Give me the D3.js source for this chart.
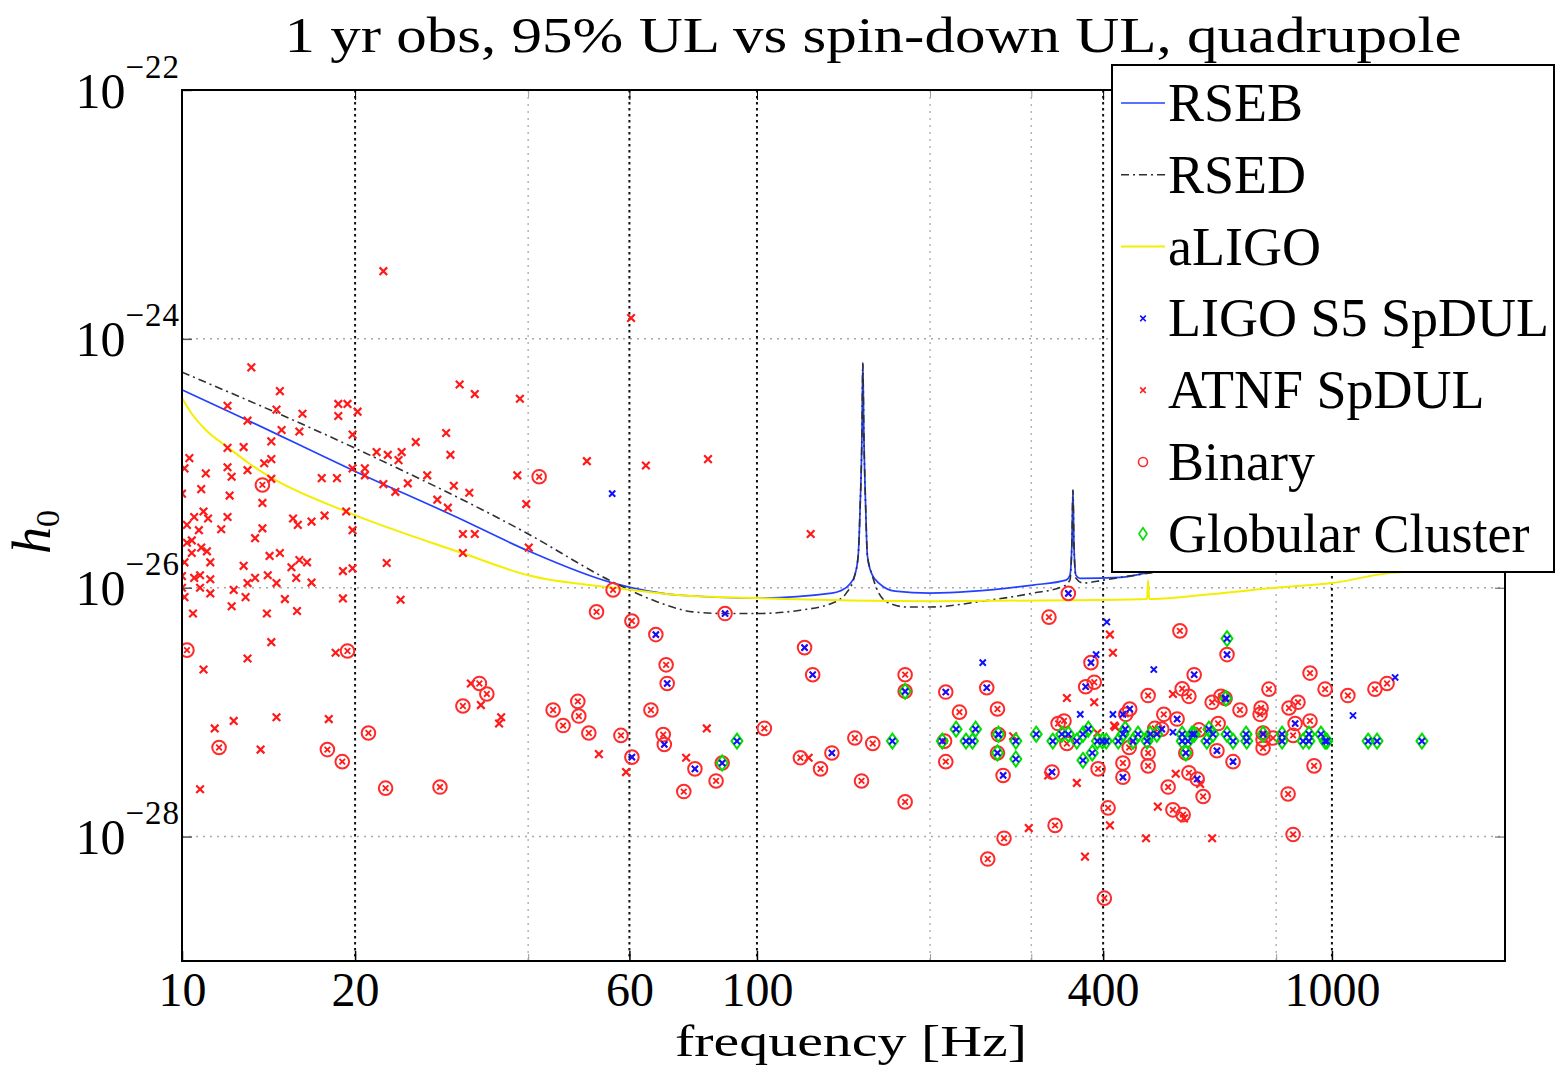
<!DOCTYPE html>
<html><head><meta charset="utf-8">
<script src="https://cdn.jsdelivr.net/npm/d3@7"></script>
<style>
body{margin:0;background:#fff}
svg{display:block}
text{font-family:"Liberation Serif","Times New Roman",serif;fill:#000}
</style>
</head><body>
<svg id="c" width="1556" height="1067"></svg>
<script>
// ---------------- DATA ----------------
const titleText = "1 yr obs, 95% UL vs spin-down UL, quadrupole";
const xLabel = "frequency [Hz]";
const xTickVals = [10, 20, 60, 100, 400, 1000];
const xMinorVals = [40, 200, 300, 800];
const yTickVals = [1e-22, 1e-24, 1e-26, 1e-28];

// RSEB curve
const rsebFreq = [10,13,19.8,30,39.8,56.2,73.5,100,135,139.4,145.1,148.1,150,151.1,152.3,152.8,153.4,154.6,155.6,158.5,163.7,173.8,200,302,344.7,350.2,352.9,354.5,355.9,358.8,364.5,428,482,600,1000,2000];
const rsebH0   = [3.9e-25,2.22e-25,8.8e-26,3.7e-26,2.0e-26,1.09e-26,8.7e-27,8.25e-27,9.05e-27,9.4e-27,1.07e-26,1.28e-26,1.82e-26,4.2e-26,1.85e-25,6.4e-25,1.85e-25,4.2e-26,1.82e-26,1.28e-26,1.07e-26,9.4e-27,9.05e-27,1.05e-26,1.15e-26,1.26e-26,2.2e-26,6.09e-26,2.2e-26,1.26e-26,1.19e-26,1.21e-26,1.33e-26,1.45e-26,2.0e-26,3.2e-26];
// RSED curve
const rsedFreq = [10,19.8,39.8,56.2,65.9,77.4,88,100,119,135,143,148.1,150,151.1,152.3,152.8,153.4,154.6,155.6,158.5,163,170,182.4,200,247,302,340,350.2,352.9,354.5,355.9,358.8,369,400,428,600,1000,2000];
const rsedH0   = [5.4e-25,1.35e-25,2.74e-26,1.11e-26,7.95e-27,6.4e-27,6.2e-27,6.2e-27,6.6e-27,7.5e-27,9.05e-27,1.28e-26,1.82e-26,4.2e-26,1.85e-25,6.4e-25,1.85e-25,4.2e-26,1.82e-26,1.28e-26,9.0e-27,7.5e-27,7.0e-27,7.0e-27,7.8e-27,9.05e-27,1.02e-26,1.15e-26,2.2e-26,6.09e-26,2.2e-26,1.19e-26,1.09e-26,1.15e-26,1.21e-26,1.5e-26,2.2e-26,3.8e-26];
// aLIGO curve
const aligoFreq = [10,10.4,11.0,12.0,13.0,14.2,19.4,30.8,40,56.2,73.5,100,203,395,477,479,481,590,800,1000,1260,2000];
const aligoH0   = [3.34e-25,2.5e-25,1.85e-25,1.35e-25,1.02e-25,7.8e-26,4.05e-26,1.89e-26,1.26e-26,1.0e-26,8.7e-27,8.25e-27,7.8e-27,7.95e-27,8.1e-27,1.15e-26,8.1e-27,8.7e-27,1.0e-26,1.09e-26,1.31e-26,1.45e-26];

// ATNF spin-down upper limits (red x) [freq Hz, h0]
const atnf = [[13.2,5.9e-25],[14.8,3.8e-25],[12.0,2.9e-25],[14.6,2.7e-25],[13.0,2.2e-25],[16.2,2.5e-25],[18.7,3.0e-25],[19.4,3.0e-25],[18.7,2.4e-25],[20.2,2.6e-25],
[14.9,1.85e-25],[16.0,1.8e-25],[19.8,1.7e-25],[14.3,1.5e-25],[12.8,1.35e-25],[12.0,1.33e-25],[10.3,1.1e-25],[13.9,1.0e-25],[14.3,1.08e-25],[10.1,9.1e-26],
[12.0,9.3e-26],[13.0,8.8e-26],[11.0,8.3e-26],[12.2,7.8e-26],[17.5,7.6e-26],[18.6,7.6e-26],[19.8,9.1e-26],[14.3,7.5e-26],[20.8,9.1e-26],[20.8,8.0e-26],
[22.4,6.8e-26],[23.5,5.9e-26],[24.7,6.9e-26],[26.7,8.0e-26],[21.8,1.23e-25],[22.8,1.17e-25],[24.1,1.23e-25],[23.8,1.06e-25],[25.5,1.48e-25],[28.8,1.75e-25],
[29.3,1.17e-25],[30.4,4.3e-25],[32.3,3.6e-25],[38.7,3.3e-25],[29.7,6.6e-26],[31.6,5.8e-26],[27.8,5.1e-26],[29.0,4.4e-26],[38.3,8.0e-26],[39.7,4.7e-26],
[50.6,1.04e-25],[64.1,9.6e-26],[82.2,1.08e-25],[10.0,5.7e-26],[10.2,3.2e-26],[10.5,3.7e-26],[11.1,3.6e-26],[10.9,4.1e-26],[10.8,6.2e-26],[12.1,5.5e-26],
[12.0,3.7e-26],[11.7,2.95e-26],[13.8,4.8e-26],[13.8,3.0e-26],[13.4,2.5e-26],[10.7,2.9e-26],[10.4,2.4e-26],[10.2,2.3e-26],[10.4,1.9e-26],[10.8,2.1e-26],
[11.05,1.96e-26],[11.2,1.6e-26],[10.1,1.6e-26],[10.0,1.24e-26],[10.5,1.2e-26],[10.75,1.26e-26],[11.2,1.17e-26],[10.0,1.0e-26],[10.75,1.0e-26],[10.1,8.4e-27],
[11.2,9.0e-27],[12.3,9.6e-27],[12.8,1.5e-26],[13.4,1.2e-26],[13.0,1.09e-26],[12.9,8.4e-27],[12.2,7.1e-27],[10.45,6.2e-27],[14.2,1.8e-26],[14.8,1.9e-26],
[15.5,1.46e-26],[16.0,1.67e-26],[16.5,1.6e-26],[15.8,1.2e-26],[14.6,1.09e-26],[14.1,1.26e-26],[16.8,1.1e-26],[15.1,8.1e-27],[14.05,6.2e-27],[15.85,6.5e-27],
[19.05,1.36e-26],[19.05,8.2e-27],[19.8,1.43e-26],[19.8,2.9e-26],[19.3,4.1e-26],[17.7,3.8e-26],[16.8,3.4e-26],[15.9,3.2e-26],[15.6,3.6e-26],[22.7,1.58e-26],
[24.0,8.0e-27],[30.8,2.7e-26],[32.3,2.7e-26],[30.8,1.9e-26],[40.1,2.1e-26],[14.3,3.65e-27],[13.0,2.7e-27],[10.9,2.2e-27],[18.5,3.0e-27],[11.4,7.4e-28],
[12.3,8.5e-28],[14.6,9.1e-28],[18.0,8.8e-28],[13.7,5.0e-28],[10.75,2.4e-28],[31.8,1.7e-27],[33.1,1.14e-27],[35.9,9.1e-28],[35.6,8.1e-28],[53.1,4.6e-28],
[59.2,3.3e-28],[22.4,3.5e-24],[60.4,1.47e-24],[124,2.7e-26],[81.8,7.4e-28],[75.3,4.3e-28],[123,4.3e-28],[279,6.4e-28],[346,1.3e-27],[386,1.2e-27],
[411,4.2e-27],[416,3.0e-27],[420,7.6e-28],[360,2.7e-28],[321,3.1e-28],[297,1.17e-28],[372,6.9e-29],[411,1.23e-28],[529,1.4e-27],[418,7.8e-28],
[535,3.2e-28],[590,2.65e-28],[498,1.74e-28],[475,9.7e-29],[619,9.7e-29],[391,6.8e-28],[553,1.4e-28]];

// Binary pulsars [freq, h0, alsoInLigoS5]
const binary = [[13.8,6.7e-26,0],[41.8,7.8e-26,0],[56.2,9.6e-27,0],[52.6,6.4e-27,0],[60.6,5.4e-27,0],[66.7,4.2e-27,1],[10.2,3.15e-27,0],[11.6,5.2e-28,0],[19.4,3.1e-27,0],[17.9,5.0e-28,0],
[19.0,4.0e-28,0],[21.1,6.8e-28,0],[22.6,2.45e-28,0],[28.1,2.5e-28,0],[30.8,1.12e-27,0],[32.9,1.7e-27,0],[33.9,1.4e-27,0],[44.2,1.04e-27,0],[46.0,7.8e-28,0],[48.8,1.22e-27,0],
[49.0,9.3e-28,0],[51.0,6.8e-28,0],[58.0,6.5e-28,0],[69.5,2.4e-27,0],[69.8,1.7e-27,1],[65.4,1.04e-27,0],[68.7,6.6e-28,0],[69.0,5.5e-28,1],[60.6,4.35e-28,1],[78.0,3.5e-28,1],
[84.9,2.8e-28,0],[74.6,2.3e-28,0],[88.0,6.2e-27,1],[103,7.4e-28,0],[121,3.3e-27,1],[125,2.0e-27,1],[119,4.3e-28,0],[129,3.5e-28,0],[135,4.7e-28,1],[148,6.2e-28,0],
[159,5.6e-28,0],[152,2.8e-28,0],[181,2.0e-27,0],[181,1.9e-28,0],[213,1.45e-27,1],[225,1.0e-27,0],[212,5.85e-28,0],[213,4.0e-28,0],[251,1.57e-27,1],[262,1.06e-27,0],
[263,6.6e-28,1],[262,4.7e-28,0],[268,3.1e-28,1],[322,5.8e-27,0],[326,3.3e-28,1],[381,2.5e-27,1],[373,1.6e-27,1],[386,1.74e-27,0],[334,8.1e-28,0],[342,8.5e-28,0],
[346,5.6e-28,0],[392,3.5e-28,0],[408,1.7e-28,0],[330,1.23e-28,0],[269,9.7e-29,0],[252,6.6e-29,0],[402,3.2e-29,0],[348,9.0e-27,1],[544,4.5e-27,0],[657,2.9e-27,1],
[576,2.0e-27,1],[549,1.54e-27,0],[564,1.34e-27,0],[479,1.36e-27,0],[777,1.53e-27,0],[916,2.06e-27,0],[973,1.53e-27,0],[1066,1.36e-27,0],[1188,1.53e-27,0],[1247,1.7e-27,0],
[619,1.2e-27,0],[641,1.34e-27,0],[652,1.29e-27,1],[692,1.04e-27,0],[753,1.08e-27,0],[750,9.6e-28,0],[842,1.08e-27,0],[873,1.2e-27,0],[863,8.1e-28,1],[916,8.5e-28,0],
[510,9.6e-28,0],[538,8.8e-28,1],[438,9.6e-28,0],[445,1.06e-27,1],[492,7.4e-28,0],[506,7.3e-28,1],[634,8.1e-28,0],[587,7.2e-28,0],[856,6.5e-28,0],[759,6.8e-28,0],
[759,6.0e-28,0],[759,5.15e-28,0],[790,6.2e-28,0],[444,5.2e-28,0],[479,4.7e-28,0],[433,3.9e-28,0],[479,3.7e-28,0],[557,4.7e-28,0],[631,4.9e-28,1],[673,4.0e-28,1],
[931,3.7e-28,0],[433,3.0e-28,1],[564,3.25e-28,0],[583,2.9e-28,1],[519,2.5e-28,0],[597,2.1e-28,0],[839,2.2e-28,0],[529,1.64e-28,0],[551,1.5e-28,0],[856,1.04e-28,0],
[87.0,3.9e-28,0],[181,1.47e-27,0]];

// Globular cluster pulsars [freq, h0, alsoInLigoS5]
const globular = [[92.3,5.85e-28,1],[87.0,3.9e-28,1],[172,5.85e-28,1],[181,1.47e-27,1],[210,5.85e-28,1],[222,7.3e-28,1],[231,5.85e-28,1],[237,5.85e-28,1],[240,7.3e-28,1],[263,6.65e-28,1],
[262,4.7e-28,1],[282,5.85e-28,1],[282,4.2e-28,1],[306,6.65e-28,1],[327,5.85e-28,1],[339,6.65e-28,1],[348,6.65e-28,1],[360,5.85e-28,1],[369,4.1e-28,1],[369,6.65e-28,1],
[377,7.3e-28,1],[383,4.7e-28,1],[391,5.85e-28,1],[399,5.85e-28,1],[405,5.85e-28,1],[425,5.85e-28,1],[437,7.3e-28,1],[433,6.65e-28,1],[451,5.85e-28,1],[460,6.65e-28,1],
[477,5.85e-28,1],[483,6.65e-28,1],[496,6.65e-28,1],[549,6.65e-28,1],[549,5.85e-28,1],[562,5.85e-28,1],[571,6.65e-28,1],[557,4.7e-28,1],[576,6.65e-28,1],[606,5.85e-28,1],
[611,7.3e-28,1],[621,6.65e-28,1],[657,3.9e-27,1],[654,1.29e-27,1],[657,6.65e-28,1],[673,5.85e-28,1],[709,6.65e-28,1],[711,5.85e-28,1],[759,6.65e-28,1],[819,6.65e-28,1],
[819,5.85e-28,1],[891,5.85e-28,1],[912,6.65e-28,1],[912,5.85e-28,1],[957,6.65e-28,1],[973,5.85e-28,1],[980,5.85e-28,1],[1156,5.85e-28,1],[1198,5.85e-28,1],[1434,5.85e-28,1]];

// LIGO S5 spin-down UL not already in the binary / globular lists
const ligoS5Only = [[56.0,5.7e-26],[247,2.5e-27],[365,9.6e-28],[406,5.3e-27],[389,2.9e-27],[416,9.6e-28],[490,2.2e-27],[433,9.6e-28],[529,6.9e-28],[1288,1.9e-27],[1088,9.4e-28]];

const legendLabels = ["RSEB","RSED","aLIGO","LIGO S5 SpDUL","ATNF SpDUL","Binary","Globular Cluster"];

// ---------------- DRAW ----------------
const svg = d3.select("#c");
const M = {l:182, r:1505, t:90, b:961};
const x = d3.scaleLog().domain([10,2000]).range([M.l, M.r]);
const y = d3.scaleLog().domain([1e-29,1e-22]).range([M.b, M.t]);

svg.append("rect").attr("width",1556).attr("height",1067).attr("fill","#fff");
svg.append("defs").append("clipPath").attr("id","clip")
  .append("rect").attr("x",M.l).attr("y",M.t).attr("width",M.r-M.l).attr("height",M.b-M.t);

// grid
const grid = svg.append("g");
grid.selectAll(".hg").data([1e-24,1e-26,1e-28]).join("line")
  .attr("x1",M.l).attr("x2",M.r).attr("y1",d=>y(d)).attr("y2",d=>y(d))
  .attr("stroke","#a8a8a8").attr("stroke-width",1.5).attr("stroke-dasharray","2,5");
grid.selectAll(".vmin").data(xMinorVals).join("line")
  .attr("x1",d=>x(d)).attr("x2",d=>x(d)).attr("y1",M.t).attr("y2",M.b)
  .attr("stroke","#b4b4b4").attr("stroke-width",1.5).attr("stroke-dasharray","2,5");
grid.selectAll(".vmaj").data(xTickVals.filter(v=>v>10)).join("line")
  .attr("x1",d=>x(d)).attr("x2",d=>x(d)).attr("y1",M.t).attr("y2",M.b)
  .attr("stroke","#111").attr("stroke-width",2).attr("stroke-dasharray","2.5,3.5");

// curves
const zip = (a,b)=>a.map((v,i)=>[v,b[i]]);
const line = d3.line().x(d=>x(d[0])).y(d=>y(d[1])).curve(d3.curveMonotoneX);
const curves = svg.append("g").attr("clip-path","url(#clip)").attr("fill","none");
curves.append("path").attr("d",line(zip(rsebFreq,rsebH0))).attr("stroke","#2340ff").attr("stroke-width",1.7);
curves.append("path").attr("d",line(zip(rsedFreq,rsedH0))).attr("stroke","#303030").attr("stroke-width",1.6).attr("stroke-dasharray","8,4,2,4");
curves.append("path").attr("d",line(zip(aligoFreq,aligoH0))).attr("stroke","#f4ee00").attr("stroke-width",2);

// markers
const xPath = s => `M${-s},${-s}L${s},${s}M${-s},${s}L${s},${-s}`;
const diamond = (w,h) => `M0,${-h}L${w},0L0,${h}L${-w},0Z`;
const pts = svg.append("g").attr("clip-path","url(#clip)").attr("fill","none");

pts.append("g").selectAll("path").data(atnf).join("path")
  .attr("transform",d=>`translate(${x(d[0])},${y(d[1])})`).attr("d",xPath(3.8))
  .attr("stroke","#ff1a1a").attr("stroke-width",2.2);

const bg = pts.append("g").selectAll("g").data(binary).join("g")
  .attr("transform",d=>`translate(${x(d[0])},${y(d[1])})`);
bg.append("circle").attr("r",6.8).attr("stroke","#ff2a2a").attr("stroke-width",2);
bg.append("path").attr("d",xPath(2.8)).attr("stroke","#ff1a1a").attr("stroke-width",1.8);

pts.append("g").selectAll("path").data(globular).join("path")
  .attr("transform",d=>`translate(${x(d[0])},${y(d[1])})`).attr("d",diamond(5.5,7.5))
  .attr("stroke","#00e000").attr("stroke-width",2);

const s5all = ligoS5Only.concat(binary.filter(d=>d[2]), globular.filter(d=>d[2]));
pts.append("g").selectAll("path").data(s5all).join("path")
  .attr("transform",d=>`translate(${x(d[0])},${y(d[1])})`).attr("d",xPath(3.1))
  .attr("stroke","#1010ff").attr("stroke-width",2);

// axes
const fontFam = '"Liberation Serif","Times New Roman",serif';
const xAx = svg.append("g").attr("transform",`translate(0,${M.b})`)
  .call(d3.axisBottom(x).tickValues(xTickVals).tickFormat(d3.format("d")).tickSizeInner(-10).tickSizeOuter(0).tickPadding(11));
xAx.attr("font-family",fontFam).attr("font-size",48).attr("color","#000");
xAx.select(".domain").remove();
xAx.selectAll(".tick line").attr("stroke-width",1.5);

svg.append("g").attr("transform",`translate(0,${M.b})`).attr("color","#999")
  .call(d3.axisBottom(x).tickValues(xMinorVals).tickFormat("").tickSizeInner(-7).tickSizeOuter(0))
  .call(g=>g.select(".domain").remove());
svg.append("g").attr("transform",`translate(0,${M.t})`).attr("color","#000")
  .call(d3.axisTop(x).tickValues(xTickVals).tickFormat("").tickSizeInner(-10).tickSizeOuter(0))
  .call(g=>g.select(".domain").remove());
svg.append("g").attr("transform",`translate(0,${M.t})`).attr("color","#999")
  .call(d3.axisTop(x).tickValues(xMinorVals).tickFormat("").tickSizeInner(-7).tickSizeOuter(0))
  .call(g=>g.select(".domain").remove());

const yAx = svg.append("g").attr("transform",`translate(${M.l},0)`)
  .call(d3.axisLeft(y).tickValues(yTickVals).tickSizeInner(-10).tickSizeOuter(0).tickPadding(4));
yAx.attr("font-family",fontFam).attr("font-size",50).attr("color","#000");
yAx.select(".domain").remove();
yAx.selectAll(".tick line").attr("stroke","#555").attr("stroke-width",1.5);
yAx.selectAll(".tick text").each(function(d){
  const t = d3.select(this);
  t.text(null).attr("dy",null).attr("y",17).attr("x",-2);
  t.append("tspan").text("10");
  t.append("tspan").attr("font-size",33).attr("dy",-30).attr("letter-spacing",1).text("\u2212" + Math.round(-Math.log10(d)));
});
svg.append("g").attr("transform",`translate(${M.r},0)`).attr("color","#555")
  .call(d3.axisRight(y).tickValues(yTickVals).tickFormat("").tickSizeInner(-10).tickSizeOuter(0))
  .call(g=>g.select(".domain").remove());

// frame
svg.append("rect").attr("x",M.l).attr("y",M.t).attr("width",M.r-M.l).attr("height",M.b-M.t)
  .attr("fill","none").attr("stroke","#000").attr("stroke-width",2);

// titles
svg.append("text").attr("x",873).attr("y",52).attr("text-anchor","middle").attr("font-size",50)
  .attr("textLength",1177).attr("lengthAdjust","spacingAndGlyphs").text(titleText);
svg.append("text").attr("x",851).attr("y",1056).attr("text-anchor","middle").attr("font-size",44)
  .attr("textLength",352).attr("lengthAdjust","spacingAndGlyphs").text(xLabel);
const yl = svg.append("text").attr("transform","translate(50,532) rotate(-90)").attr("text-anchor","middle");
yl.append("tspan").attr("font-style","italic").attr("font-size",54).text("h");
yl.append("tspan").attr("font-size",34).attr("dy",9).text("0");

// legend
const L = svg.append("g");
L.append("rect").attr("x",1112).attr("y",65).attr("width",442).attr("height",507)
  .attr("fill","#fff").attr("stroke","#000").attr("stroke-width",2);
const rowY = i => 103 + i*71.8;
const lx0 = 1121, lx1 = 1165, mx = 1143;
L.append("line").attr("x1",lx0).attr("x2",lx1).attr("y1",rowY(0)).attr("y2",rowY(0)).attr("stroke","#2340ff").attr("stroke-width",1.7);
L.append("line").attr("x1",lx0).attr("x2",lx1).attr("y1",rowY(1)).attr("y2",rowY(1)).attr("stroke","#303030").attr("stroke-width",1.6).attr("stroke-dasharray","8,4,2,4");
L.append("line").attr("x1",lx0).attr("x2",lx1).attr("y1",rowY(2)).attr("y2",rowY(2)).attr("stroke","#f4ee00").attr("stroke-width",2);
L.append("path").attr("transform",`translate(${mx},${rowY(3)})`).attr("d",xPath(2.8)).attr("stroke","#1010ff").attr("stroke-width",1.6).attr("fill","none");
L.append("path").attr("transform",`translate(${mx},${rowY(4)})`).attr("d",xPath(2.8)).attr("stroke","#ff1a1a").attr("stroke-width",1.6).attr("fill","none");
L.append("circle").attr("cx",mx).attr("cy",rowY(5)).attr("r",4.5).attr("stroke","#ff2a2a").attr("stroke-width",1.6).attr("fill","none");
L.append("path").attr("transform",`translate(${mx},${rowY(6)})`).attr("d",diamond(4,6)).attr("stroke","#00e000").attr("stroke-width",1.6).attr("fill","none");
L.selectAll(".lt").data(legendLabels).join("text")
  .attr("x",1168).attr("y",(d,i)=>rowY(i)+18).attr("font-size",54).text(d=>d);
</script>
</body></html>
